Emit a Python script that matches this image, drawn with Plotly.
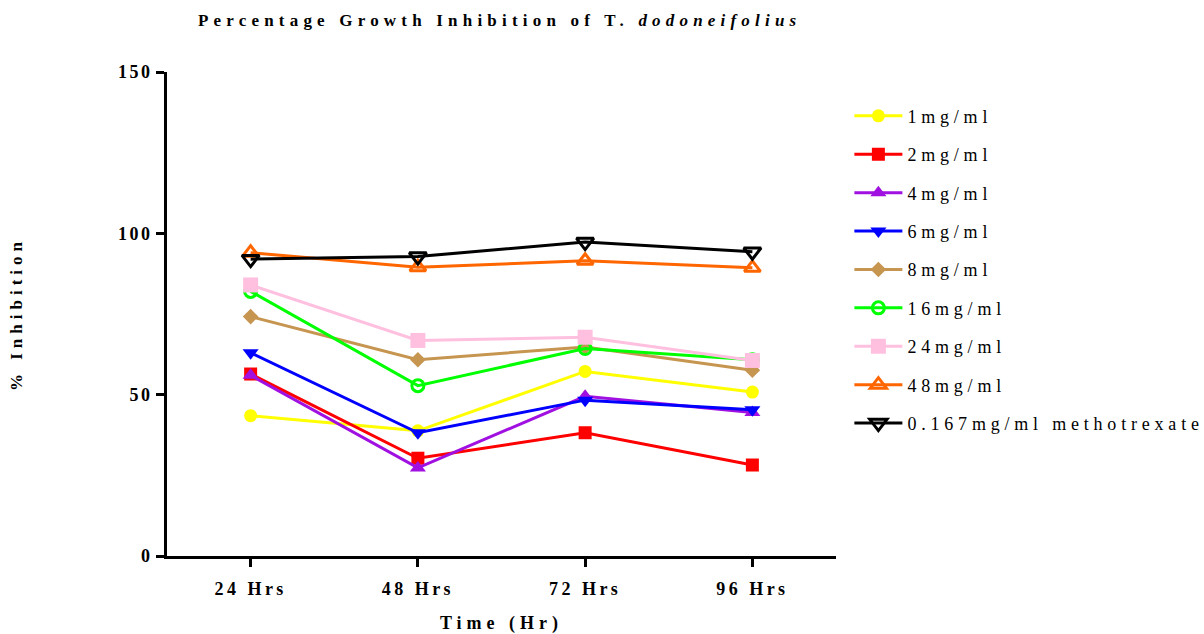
import plotly.graph_objects as go

# Sampling times and tick labels
times = ["24 Hrs", "48 Hrs", "72 Hrs", "96 Hrs"]

# Percentage growth inhibition per treatment
inh_1mg = [43.5, 38.8, 57.2, 50.8]
inh_2mg = [56.4, 30.3, 38.2, 28.2]
inh_4mg = [56.0, 27.3, 49.5, 44.5]
inh_6mg = [63.0, 38.2, 48.3, 45.3]
inh_8mg = [74.2, 60.8, 64.8, 57.6]
inh_16mg = [82.0, 52.8, 64.3, 60.8]
inh_24mg = [84.0, 66.8, 67.8, 60.6]
inh_48mg = [94.0, 89.5, 91.5, 89.3]
inh_mtx = [92.0, 92.8, 97.3, 94.3]

series_names = ["1mg/ml", "2mg/ml", "4mg/ml", "6mg/ml", "8mg/ml",
                "16mg/ml", "24mg/ml", "48mg/ml", "0.167mg/ml methotrexate"]
series_values = [inh_1mg, inh_2mg, inh_4mg, inh_6mg, inh_8mg,
                 inh_16mg, inh_24mg, inh_48mg, inh_mtx]

colors = ["#FFFF00", "#FF0000", "#A010E0", "#0000FF", "#C69550",
          "#00FF00", "#FFC0E0", "#FF6600", "#000000"]
symbols = ["circle", "square", "triangle-up", "triangle-down", "diamond",
           "circle-open", "square", "triangle-up-open", "triangle-down-open"]
sizes = [13, 13, 14, 14, 12, 12, 15, 14, 15]

SERIF = "Liberation Serif, Times New Roman, serif"

fig = go.Figure()
for i, (name, vals) in enumerate(zip(series_names, series_values)):
    open_marker = symbols[i].endswith("-open")
    fig.add_trace(go.Scatter(
        x=times, y=vals, name=name, mode="lines+markers",
        legendgroup=f"g{i}",
        line=dict(color=colors[i], width=3),
        marker=dict(symbol=symbols[i], size=sizes[i], color=colors[i],
                    line=dict(color=colors[i], width=3 if open_marker else 0)),
    ))

fig.update_layout(
    width=1204, height=634,
    margin=dict(l=167, r=368, t=72, b=78),
    paper_bgcolor="white", plot_bgcolor="white",
    font=dict(family=SERIF, color="black"),
    title=dict(
        text="<b>Percentage Growth Inhibition of T. <i>dodoneifolius</i></b>",
        x=0.415, xanchor="center", y=0.968, yanchor="middle",
        font=dict(size=17, family=SERIF),
    ),
    showlegend=True,
    legend=dict(
        x=1.02, xanchor="left", y=0.947, yanchor="top",
        font=dict(size=18, family=SERIF),
        tracegroupgap=12, itemwidth=48, bgcolor="rgba(0,0,0,0)",
    ),
    xaxis=dict(
        type="category", range=[-0.5, 3.5], automargin=False,
        showline=True, linecolor="black", linewidth=3,
        ticks="outside", ticklen=8, tickwidth=3, tickcolor="black",
        ticklabelstandoff=6,
        showgrid=False, zeroline=False,
        tickfont=dict(size=18, family=SERIF, weight="bold"),
        title=dict(text="<b>Time (Hr)</b>", font=dict(size=18, family=SERIF), standoff=21),
    ),
    yaxis=dict(
        range=[0, 150], tickvals=[0, 50, 100, 150], automargin=False,
        showline=True, linecolor="black", linewidth=3,
        ticks="outside", ticklen=8, tickwidth=3, tickcolor="black",
        showgrid=False, zeroline=False,
        tickfont=dict(size=18, family=SERIF, weight="bold"),
        title=dict(text="<b>% Inhibition</b>", font=dict(size=17, family=SERIF), standoff=99),
    ),
)

# Wide tracking on all text, as in the typeset figure; the legend box
# is sized before tracking is applied, so its clip is lifted.
spacing_js = """
var st = document.createElement('style');
st.textContent =
  'text.gtitle{letter-spacing:5.2px}' +
  'text.legendtext{letter-spacing:4.8px}' +
  'g.legend g.scrollbox, g.legend{clip-path:none !important}' +
  'g.xtick text{letter-spacing:3.5px}' +
  'g.ytick text{letter-spacing:2.5px}' +
  'text.xtitle, text.ytitle{letter-spacing:5px}';
document.head.appendChild(st);
"""

fig.write_html("out.html", post_script=spacing_js)
